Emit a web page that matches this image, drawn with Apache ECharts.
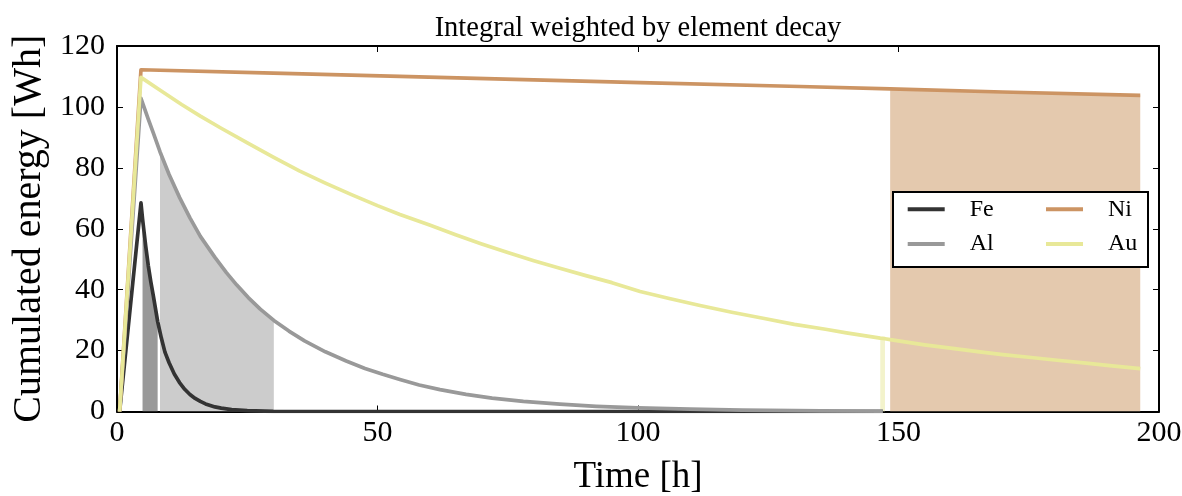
<!DOCTYPE html>
<html>
<head>
<meta charset="utf-8">
<script src="https://cdn.jsdelivr.net/npm/echarts@6/dist/echarts.min.js"></script>
<style>
  html, body { margin: 0; padding: 0; background: #ffffff; }
  #chart { width: 1182px; height: 496px; }
</style>
</head>
<body>
<div id="chart"></div>
<script>
// ---- data ----
const seriesNames = ['Fe', 'Al', 'Ni', 'Au'];
const xTicks = [0, 50, 100, 150, 200];
const yTicks = [0, 20, 40, 60, 80, 100, 120];

const feTime = [0.5, 4.6, 4.9, 5.2, 5.5, 6, 6.5, 7, 7.8, 8.5, 9.2, 10, 11, 12, 13, 14, 15, 16, 17, 18.8, 20, 22, 25, 30, 40, 60, 100, 147];
const feVals = [0, 68.5, 63.3, 58.9, 54.4, 47.9, 42.5, 37.7, 29.6, 24.2, 19.5, 16.0, 12.3, 9.5, 7.3, 5.6, 4.3, 3.3, 2.5, 1.5, 1.1, 0.6, 0.3, 0.06, 0, 0, 0, 0];

const alTime = [0.5, 4.6, 6, 7, 8.25, 10, 12, 14, 16, 18.8, 21, 23, 25.2, 27.5, 30.1, 33, 36, 40, 44, 47.6, 51, 54.3, 58, 62, 67, 72, 78, 85, 92, 100, 110, 120, 135, 147];
const alVals = [0, 102.8, 96.0, 91.3, 85.3, 77.8, 70.3, 63.6, 57.5, 50.6, 45.6, 41.5, 37.4, 33.6, 29.9, 26.4, 23.2, 19.6, 16.6, 14.1, 12.2, 10.5, 8.7, 7.2, 5.6, 4.4, 3.3, 2.4, 1.7, 1.2, 0.75, 0.45, 0.22, 0.12];

const niTime = [0.5, 4.6, 30, 54.3, 80, 100.4, 131.1, 148.4, 170, 196.4];
const niVals = [0, 112.2, 111.1, 110.0, 108.9, 108.0, 106.7, 105.9, 104.9, 103.8];

const auTime = [0.5, 4.6, 8, 12.4, 16, 20, 25.2, 30, 35, 40, 45, 50, 54.3, 60, 65, 70, 75, 80, 85, 90, 95, 100.4, 106, 111.9, 118, 124, 130, 136, 140, 146.5, 147.4, 148.4, 155, 160, 165.6, 170, 175, 180, 186, 191, 196.4];
const auVals = [0, 109.7, 105.8, 100.8, 97.0, 93.0, 88.0, 83.5, 79.0, 75.0, 71.2, 67.6, 64.7, 61.2, 58.0, 55.0, 52.2, 49.5, 47.0, 44.6, 42.3, 39.4, 37.1, 34.8, 32.6, 30.6, 28.6, 27.0, 25.8, 24.1, 23.9, 23.6, 21.9, 20.8, 19.6, 18.7, 17.8, 16.9, 15.9, 15.0, 14.1];

// shaded integration windows [start, end] in hours
const feFill = [4.9, 7.8];
const alFill = [8.25, 30.1];
const auFill = [146.5, 147.4];
const niFill = [148.4, 196.4];

// ---- styling ----
const lineColors = { Fe: '#333333', Al: '#999999', Ni: '#cc9463', Au: '#e8e898' };
const fillColors = { Fe: '#999999', Al: '#cccccc', Ni: '#e4c9ae', Au: '#f3f3cb' };
const FONT = 'Liberation Serif';

const pairs = (t, v) => t.map((x, i) => [x, v[i]]);
const within = (t, v, r) => pairs(t, v).filter(p => p[0] >= r[0] && p[0] <= r[1]);

const src = {
  Fe: [feTime, feVals, feFill],
  Al: [alTime, alVals, alFill],
  Ni: [niTime, niVals, niFill],
  Au: [auTime, auVals, auFill]
};

const fillSeries = ['Fe', 'Al', 'Au', 'Ni'].map(n => ({
  name: n + ' window',
  type: 'line',
  data: within(src[n][0], src[n][1], src[n][2]),
  showSymbol: false,
  silent: true,
  lineStyle: { width: 0, opacity: 0 },
  areaStyle: { color: fillColors[n], opacity: 1 },
  z: 1,
  animation: false
}));

const lineSeries = seriesNames.map(n => ({
  name: n,
  type: 'line',
  data: pairs(src[n][0], src[n][1]),
  showSymbol: false,
  symbol: 'none',
  lineStyle: { color: lineColors[n], width: 3.7, join: 'round' },
  itemStyle: { color: lineColors[n] },
  z: 2,
  animation: false
}));

const axisCommon = {
  axisLine: { show: true, onZero: false, lineStyle: { color: '#000', width: 2 } },
  axisTick: { show: true, inside: true, length: 6, lineStyle: { color: '#000', width: 1 } },
  splitLine: { show: false }
};

const legendCommon = {
  orient: 'vertical',
  icon: 'rect',
  itemWidth: 37,
  itemHeight: 4,
  itemGap: 10.7,
  top: 197.3,
  padding: 0,
  z: 60,
  selectedMode: false,
  textStyle: { fontFamily: FONT, fontSize: 24, color: '#000', lineHeight: 24, padding: [0, 0, 0, 20] }
};

const chart = echarts.init(document.getElementById('chart'), null, { renderer: 'canvas' });
chart.setOption({
  animation: false,
  backgroundColor: '#ffffff',
  title: {
    text: 'Integral weighted by element decay',
    left: 638,
    top: 14,
    padding: 0,
    textAlign: 'center',
    textStyle: { fontFamily: FONT, fontSize: 28.5, fontWeight: 'normal', color: '#000' }
  },
  grid: { left: 117, right: 23, top: 46, bottom: 84.5, containLabel: false, outerBoundsMode: 'none' },
  xAxis: [
    Object.assign({
      type: 'value', min: xTicks[0], max: xTicks[xTicks.length - 1], interval: 50,
      position: 'bottom',
      name: 'Time [h]', nameLocation: 'middle', nameGap: 47,
      nameTextStyle: { fontFamily: FONT, fontSize: 37, color: '#000' },
      axisLabel: { fontFamily: FONT, fontSize: 30, color: '#000', margin: 7 }
    }, axisCommon),
    Object.assign({
      type: 'value', min: xTicks[0], max: xTicks[xTicks.length - 1], interval: 50,
      position: 'top', axisLabel: { show: false }
    }, axisCommon)
  ],
  yAxis: [
    Object.assign({
      type: 'value', min: yTicks[0], max: yTicks[yTicks.length - 1], interval: 20,
      position: 'left',
      name: 'Cumulated energy [Wh]', nameLocation: 'middle', nameGap: 60,
      nameTextStyle: { fontFamily: FONT, fontSize: 40, color: '#000' },
      axisLabel: { fontFamily: FONT, fontSize: 30, color: '#000', margin: 12 }
    }, axisCommon),
    Object.assign({
      type: 'value', min: yTicks[0], max: yTicks[yTicks.length - 1], interval: 20,
      position: 'right', axisLabel: { show: false }
    }, axisCommon)
  ],
  legend: [
    Object.assign({ left: 907.7, data: ['Fe', 'Al'] }, legendCommon),
    Object.assign({ left: 1046, data: ['Ni', 'Au'] }, legendCommon)
  ],
  graphic: [{
    type: 'rect',
    z: 50,
    shape: { x: 893, y: 192, width: 255, height: 75 },
    style: { fill: '#ffffff', stroke: '#000000', lineWidth: 2 }
  }],
  series: fillSeries.concat(lineSeries)
});
</script>
</body>
</html>
